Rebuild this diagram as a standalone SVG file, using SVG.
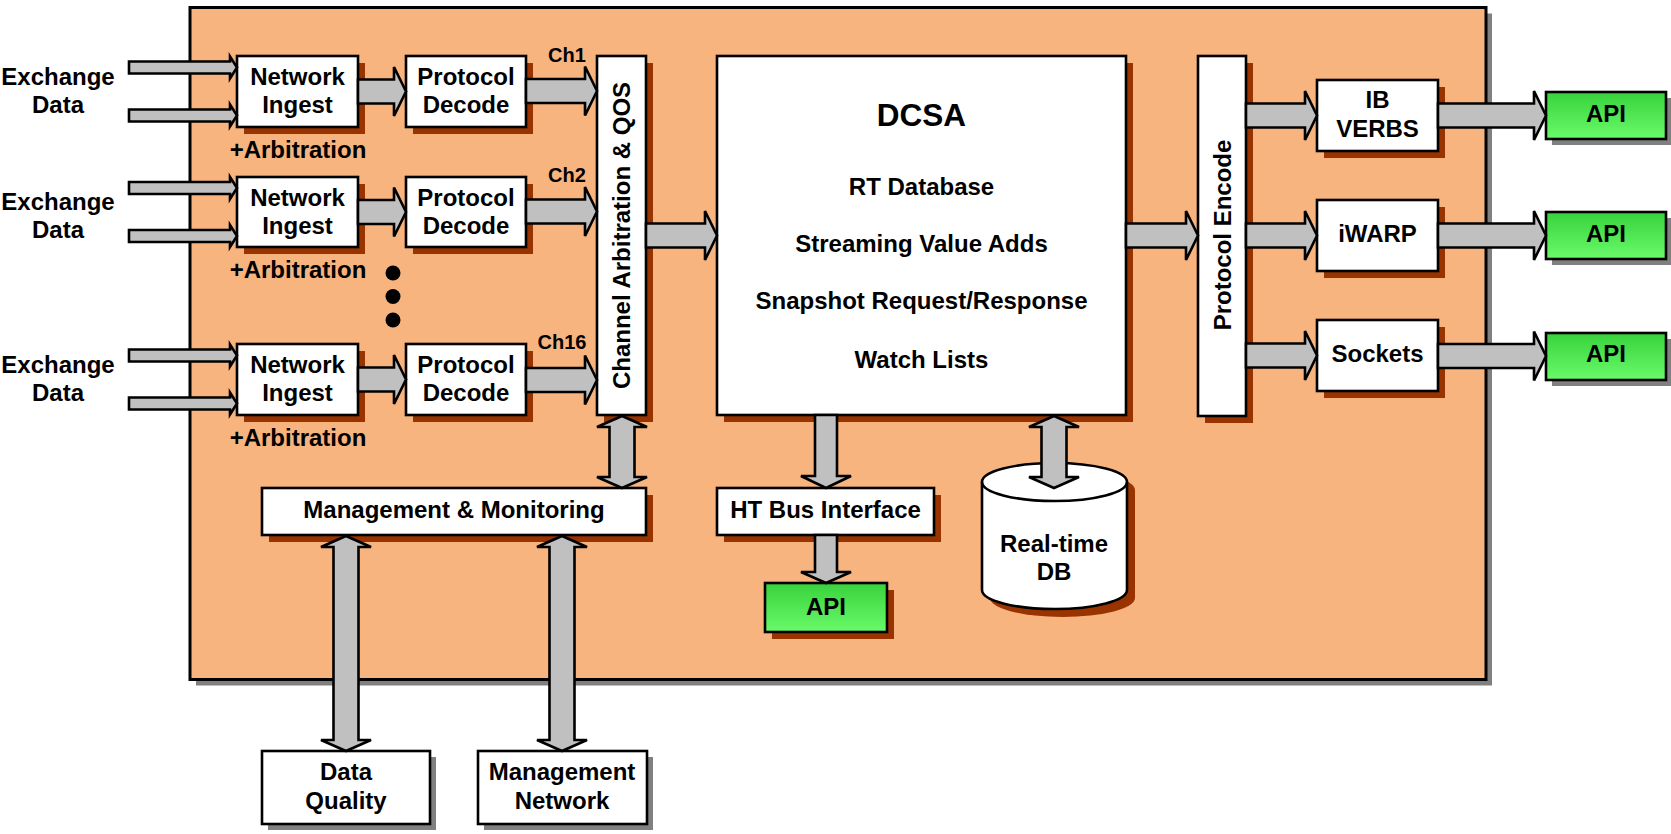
<svg xmlns="http://www.w3.org/2000/svg" width="1671" height="834" viewBox="0 0 1671 834">
<defs>
<linearGradient id="green" x1="0" y1="0" x2="0" y2="1">
<stop offset="0" stop-color="#38D23C"/>
<stop offset="1" stop-color="#6AFA6A"/>
</linearGradient>
<style>
text{font-family:"Liberation Sans",Arial,sans-serif;font-weight:bold;font-size:24px;fill:#000;text-anchor:middle}
.box{fill:#fff;stroke:#000;stroke-width:2.6}
.api{fill:url(#green);stroke:#000;stroke-width:2.6}
.sh{fill:#993300}
.shg{fill:#808080}
.arr{fill:#C0C0C0;stroke:#000;stroke-width:2.6;stroke-linejoin:miter}
.ch{font-size:20px}
.big{font-size:31.5px}
</style>
</defs>
<rect width="1671" height="834" fill="#fff"/>
<g id="main">
<rect class="shg" x="196" y="13.5" width="1296" height="672"/>
<rect x="190" y="7.5" width="1296" height="672" fill="#F7B47E" stroke="#000" stroke-width="3"/>
</g>

<g id="labels-exchange">
<text x="58" y="85">Exchange</text><text x="58" y="113">Data</text>
<text x="58" y="210">Exchange</text><text x="58" y="238">Data</text>
<text x="58" y="373">Exchange</text><text x="58" y="401">Data</text>
</g>

<g id="ingest1"><rect class="sh" x="244" y="63" width="121" height="71"/><rect class="box" x="237" y="56" width="121" height="71"/><text x="297.5" y="85">Network</text><text x="297.5" y="113">Ingest</text><text x="298" y="158">+Arbitration</text></g>
<g id="ingest2"><rect class="sh" x="244" y="184" width="121" height="70"/><rect class="box" x="237" y="177" width="121" height="70"/><text x="297.5" y="205.5">Network</text><text x="297.5" y="233.5">Ingest</text><text x="298" y="278">+Arbitration</text></g>
<g id="ingest3"><rect class="sh" x="244" y="351" width="121" height="71"/><rect class="box" x="237" y="344" width="121" height="71"/><text x="297.5" y="373">Network</text><text x="297.5" y="401">Ingest</text><text x="298" y="446">+Arbitration</text></g>

<g id="decode1"><rect class="sh" x="413" y="63" width="120" height="71"/><rect class="box" x="406" y="56" width="120" height="71"/><text x="466" y="85">Protocol</text><text x="466" y="113">Decode</text></g>
<g id="decode2"><rect class="sh" x="413" y="184" width="120" height="70"/><rect class="box" x="406" y="177" width="120" height="70"/><text x="466" y="205.5">Protocol</text><text x="466" y="233.5">Decode</text></g>
<g id="decode3"><rect class="sh" x="413" y="351" width="120" height="71"/><rect class="box" x="406" y="344" width="120" height="71"/><text x="466" y="373">Protocol</text><text x="466" y="401">Decode</text></g>

<g id="dots"><circle cx="393" cy="273" r="7.5"/><circle cx="393" cy="296.5" r="7.5"/><circle cx="393" cy="320" r="7.5"/></g>

<g id="chlabels"><text class="ch" x="567" y="62">Ch1</text><text class="ch" x="567" y="182">Ch2</text><text class="ch" x="562" y="349">Ch16</text></g>

<g id="chanarb"><rect class="sh" x="604" y="63" width="49" height="359"/><rect class="box" x="597" y="56" width="49" height="359"/><text transform="translate(630,235.5) rotate(-90)">Channel Arbitration &amp; QOS</text></g>

<g id="dcsa"><rect class="sh" x="724" y="63" width="409" height="359"/><rect class="box" x="717" y="56" width="409" height="359"/>
<text class="big" x="921.5" y="126">DCSA</text>
<text x="921.5" y="195">RT Database</text>
<text x="921.5" y="252">Streaming Value Adds</text>
<text x="921.5" y="309">Snapshot Request/Response</text>
<text x="921.5" y="368">Watch Lists</text></g>

<g id="encode"><rect class="sh" x="1205" y="63" width="48" height="360"/><rect class="box" x="1198" y="56" width="48" height="360"/><text transform="translate(1230.5,235) rotate(-90)">Protocol Encode</text></g>

<g id="ibverbs"><rect class="sh" x="1324" y="87" width="121" height="71"/><rect class="box" x="1317" y="80" width="121" height="71"/><text x="1377.5" y="108">IB</text><text x="1377.5" y="137">VERBS</text></g>
<g id="iwarp"><rect class="sh" x="1324" y="207" width="121" height="71"/><rect class="box" x="1317" y="200" width="121" height="71"/><text x="1377.5" y="242">iWARP</text></g>
<g id="sockets"><rect class="sh" x="1324" y="327" width="121" height="71"/><rect class="box" x="1317" y="320" width="121" height="71"/><text x="1377.5" y="362">Sockets</text></g>

<g id="api1"><rect class="shg" x="1552" y="98" width="120" height="47"/><rect class="api" x="1546" y="92" width="120" height="47"/><text x="1606" y="122">API</text></g>
<g id="api2"><rect class="shg" x="1552" y="218" width="120" height="47"/><rect class="api" x="1546" y="212" width="120" height="47"/><text x="1606" y="242">API</text></g>
<g id="api3"><rect class="shg" x="1552" y="339" width="120" height="47"/><rect class="api" x="1546" y="333" width="120" height="47"/><text x="1606" y="362">API</text></g>

<g id="mgmt"><rect class="sh" x="269" y="495" width="384" height="47"/><rect class="box" x="262" y="488" width="384" height="47"/><text x="454" y="518">Management &amp; Monitoring</text></g>
<g id="htbus"><rect class="sh" x="724" y="495" width="217" height="47"/><rect class="box" x="717" y="488" width="217" height="47"/><text x="825.5" y="518">HT Bus Interface</text></g>
<g id="api4"><rect class="sh" x="772" y="590" width="122" height="49"/><rect class="api" x="765" y="583" width="122" height="49"/><text x="826" y="615">API</text></g>

<g id="realtimedb">
<path class="sh" d="M990,490 A72.5,19 0 0 1 1135,490 V598 A72.5,19 0 0 1 990,598 Z"/>
<path d="M982,482 A72.5,19 0 0 1 1127,482 V590 A72.5,19 0 0 1 982,590 Z" fill="#fff" stroke="#000" stroke-width="2.6"/>
<path d="M982,482 A72.5,19 0 0 0 1127,482" fill="none" stroke="#000" stroke-width="2.6"/>
<text x="1054" y="552">Real-time</text><text x="1054" y="580">DB</text>
</g>

<g id="dataquality"><rect class="shg" x="268" y="757" width="168" height="73"/><rect class="box" x="262" y="751" width="168" height="73"/><text x="346" y="780">Data</text><text x="346" y="809">Quality</text></g>
<g id="mgmtnet"><rect class="shg" x="484" y="757" width="169" height="73"/><rect class="box" x="478" y="751" width="169" height="73"/><text x="562" y="780">Management</text><text x="562" y="809">Network</text></g>

<g id="connectors">
<polygon class="arr" points="129,61.5 230,61.5 230,56.5 237,67.5 230,78.5 230,73.5 129,73.5"/>
<polygon class="arr" points="129,109.5 230,109.5 230,104.5 237,115.5 230,126.5 230,121.5 129,121.5"/>
<polygon class="arr" points="129,182 230,182 230,177 237,188 230,199 230,194 129,194"/>
<polygon class="arr" points="129,230 230,230 230,225 237,236 230,247 230,242 129,242"/>
<polygon class="arr" points="129,349.5 230,349.5 230,344.5 237,355.5 230,366.5 230,361.5 129,361.5"/>
<polygon class="arr" points="129,397.5 230,397.5 230,392.5 237,403.5 230,414.5 230,409.5 129,409.5"/>
<polygon class="arr" points="358,79.5 394,79.5 394,67 406,91.5 394,116 394,103.5 358,103.5"/>
<polygon class="arr" points="358,200 394,200 394,187.5 406,212 394,236.5 394,224 358,224"/>
<polygon class="arr" points="358,367.5 394,367.5 394,355 406,379.5 394,404 394,391.5 358,391.5"/>
<polygon class="arr" points="526,79 585,79 585,66.5 597,91 585,115.5 585,103 526,103"/>
<polygon class="arr" points="526,199.5 585,199.5 585,187 597,211.5 585,236 585,223.5 526,223.5"/>
<polygon class="arr" points="526,368 585,368 585,355.5 597,380 585,404.5 585,392 526,392"/>
<polygon class="arr" points="646,223.5 705,223.5 705,211 717,235.5 705,260 705,247.5 646,247.5"/>
<polygon class="arr" points="1126,223.5 1186,223.5 1186,211 1198,235.5 1186,260 1186,247.5 1126,247.5"/>
<polygon class="arr" points="1246,103.5 1305,103.5 1305,91 1317,115.5 1305,140 1305,127.5 1246,127.5"/>
<polygon class="arr" points="1246,223.5 1305,223.5 1305,211 1317,235.5 1305,260 1305,247.5 1246,247.5"/>
<polygon class="arr" points="1246,343.5 1305,343.5 1305,331 1317,355.5 1305,380 1305,367.5 1246,367.5"/>
<polygon class="arr" points="1438,103.5 1534,103.5 1534,91 1546,115.5 1534,140 1534,127.5 1438,127.5"/>
<polygon class="arr" points="1438,223.5 1534,223.5 1534,211 1546,235.5 1534,260 1534,247.5 1438,247.5"/>
<polygon class="arr" points="1438,344 1534,344 1534,331.5 1546,356 1534,380.5 1534,368 1438,368"/>
<polygon class="arr" points="622,416 647,427 634.5,427 634.5,477 647,477 622,488 597,477 609.5,477 609.5,427 597,427"/>
<polygon class="arr" points="346,536 371,547 358.5,547 358.5,740 371,740 346,751 321,740 333.5,740 333.5,547 321,547"/>
<polygon class="arr" points="562,536 587,547 574.5,547 574.5,740 587,740 562,751 537,740 549.5,740 549.5,547 537,547"/>
<polygon class="arr" points="815,415 837,415 837,476 851,476 826,488 801,476 815,476"/>
<polygon class="arr" points="815,535 837,535 837,572 851,572 826,583 801,572 815,572"/>
<polygon class="arr" points="1054,416 1079,427 1066.5,427 1066.5,477 1079,477 1054,488 1029,477 1041.5,477 1041.5,427 1029,427"/>
</g>
</svg>
